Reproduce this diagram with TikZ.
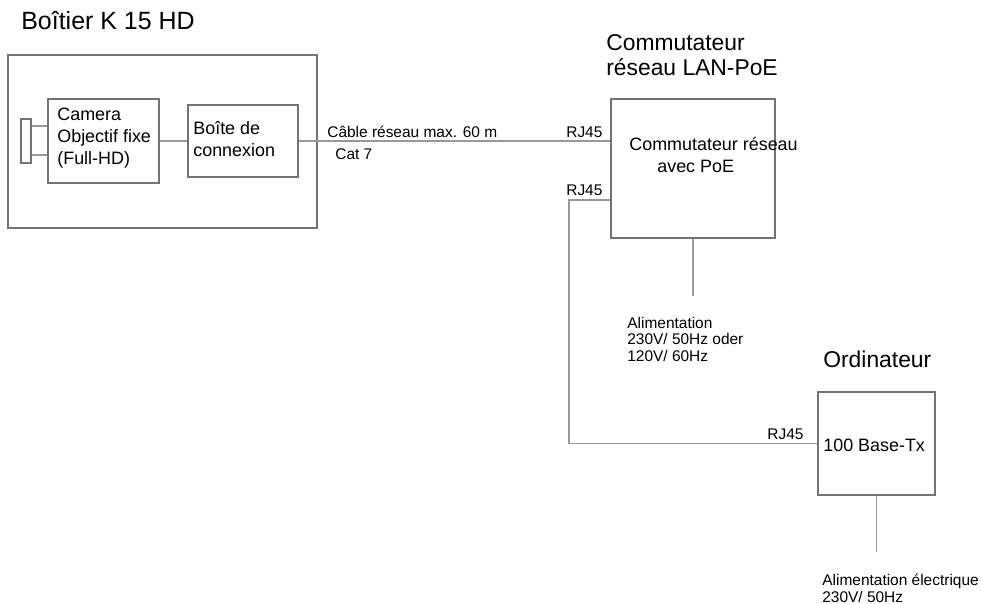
\documentclass[tikz,border=0pt]{standalone}
\usepackage{fontspec}
\setmainfont{Liberation Sans}
\usepackage{tikz}
\usetikzlibrary{positioning}

\tikzset{
        box/.style={draw=black!55, line width=0.9pt, inner sep=0pt},
        wire/.style={draw=black!40, line width=0.9pt},
        title/.style={anchor=base west, inner sep=0pt, font=\fontsize{13}{15}\selectfont},
        boxtext/.style={anchor=base west, inner sep=0pt, font=\fontsize{10.2}{12}\selectfont},
        small/.style={anchor=base west, inner sep=0pt, font=\fontsize{8.8}{10}\selectfont},
}

\begin{document}
\begin{tikzpicture}[x=0.02cm, y=-0.02cm]
        \useasboundingbox (0,0) rectangle (981,603);

        % housing with camera and junction box
        \node[title, font=\fontsize{14.2}{16}\selectfont] (housingtitle) at (21,29) {Boîtier K 15 HD};
        \node[box, minimum width=6.18cm, minimum height=3.46cm] (housing) at (162.5,141.5) {};
        \node[box, minimum width=2.22cm, minimum height=1.68cm] (cam) at (103.5,141) {};
        \node[box, minimum width=0.2cm, minimum height=0.88cm] (lens) at (26,141) {};
        \node[box, minimum width=2.2cm, minimum height=1.44cm] (junction) at (243,141) {};
        \foreach \txt [count=\i] in {Camera, Objectif fixe, (Full-HD)}
        \node[boxtext] (camtxt\i) at (57, 98+22*\i) {\txt};
        \foreach \txt [count=\i] in {Boîte de, connexion}
        \node[boxtext] (junctiontxt\i) at (193, 112+22*\i) {\txt};

        \draw[wire] ([yshift=0.3cm]lens.east) -- ([yshift=0.3cm]lens.east -| cam.west);
        \draw[wire] ([yshift=-0.28cm]lens.east) -- ([yshift=-0.28cm]lens.east -| cam.west);
        \draw[wire] (cam) -- (junction);

        % switch
        \foreach \txt [count=\i] in {Commutateur, réseau LAN-PoE}
        \node[title] (switchtitle\i) at (606, 25+25*\i) {\txt};
        \node[box, minimum width=3.28cm, minimum height=2.78cm] (switch) at (693,168.5) {};
        \node[boxtext] (switchtxt1) at (629,150) {Commutateur réseau};
        \node[boxtext] (switchtxt2) at (657,172) {avec PoE};

        \draw[wire] (junction.east) -- (junction.east -| switch.west);
        \node[small] (cabletxt) at (327,137) {Câble réseau max. 60 m};
        \node[small] (cattxt) at (335,159) {Cat 7};
        \node[small] (rjin) at (566,137) {RJ45};
        \node[small] (rjout) at (566,195) {RJ45};

        \coordinate (pwsw) at (693,296);
        \draw[wire] (switch.south) -- (pwsw);
        \foreach \txt [count=\i] in {Alimentation, 230V/ 50Hz oder, 120V/ 60Hz}
        \node[small] (pwswtxt\i) at (627, 311.5+16.5*\i) {\txt};

        % computer
        \node[title] (pctitle) at (823,367) {Ordinateur};
        \node[box, minimum width=2.34cm, minimum height=2.06cm] (pc) at (876.5,443.5) {};
        \node[boxtext] (pctxt) at (823,451) {100 Base-Tx};
        \node[small] (rjpc) at (767,439) {RJ45};

        \coordinate (bend) at (569,200);
        \draw[wire] (switch.west |- bend) -- (bend) -- (bend |- pc) -- (pc.west);

        \coordinate (pwpc) at (876.5,552);
        \draw[wire] (pc.south) -- (pwpc);
        \foreach \txt [count=\i] in {Alimentation électrique, 230V/ 50Hz}
        \node[small] (pwpctxt\i) at (822, 568+17*\i) {\txt};
\end{tikzpicture}
\end{document}
